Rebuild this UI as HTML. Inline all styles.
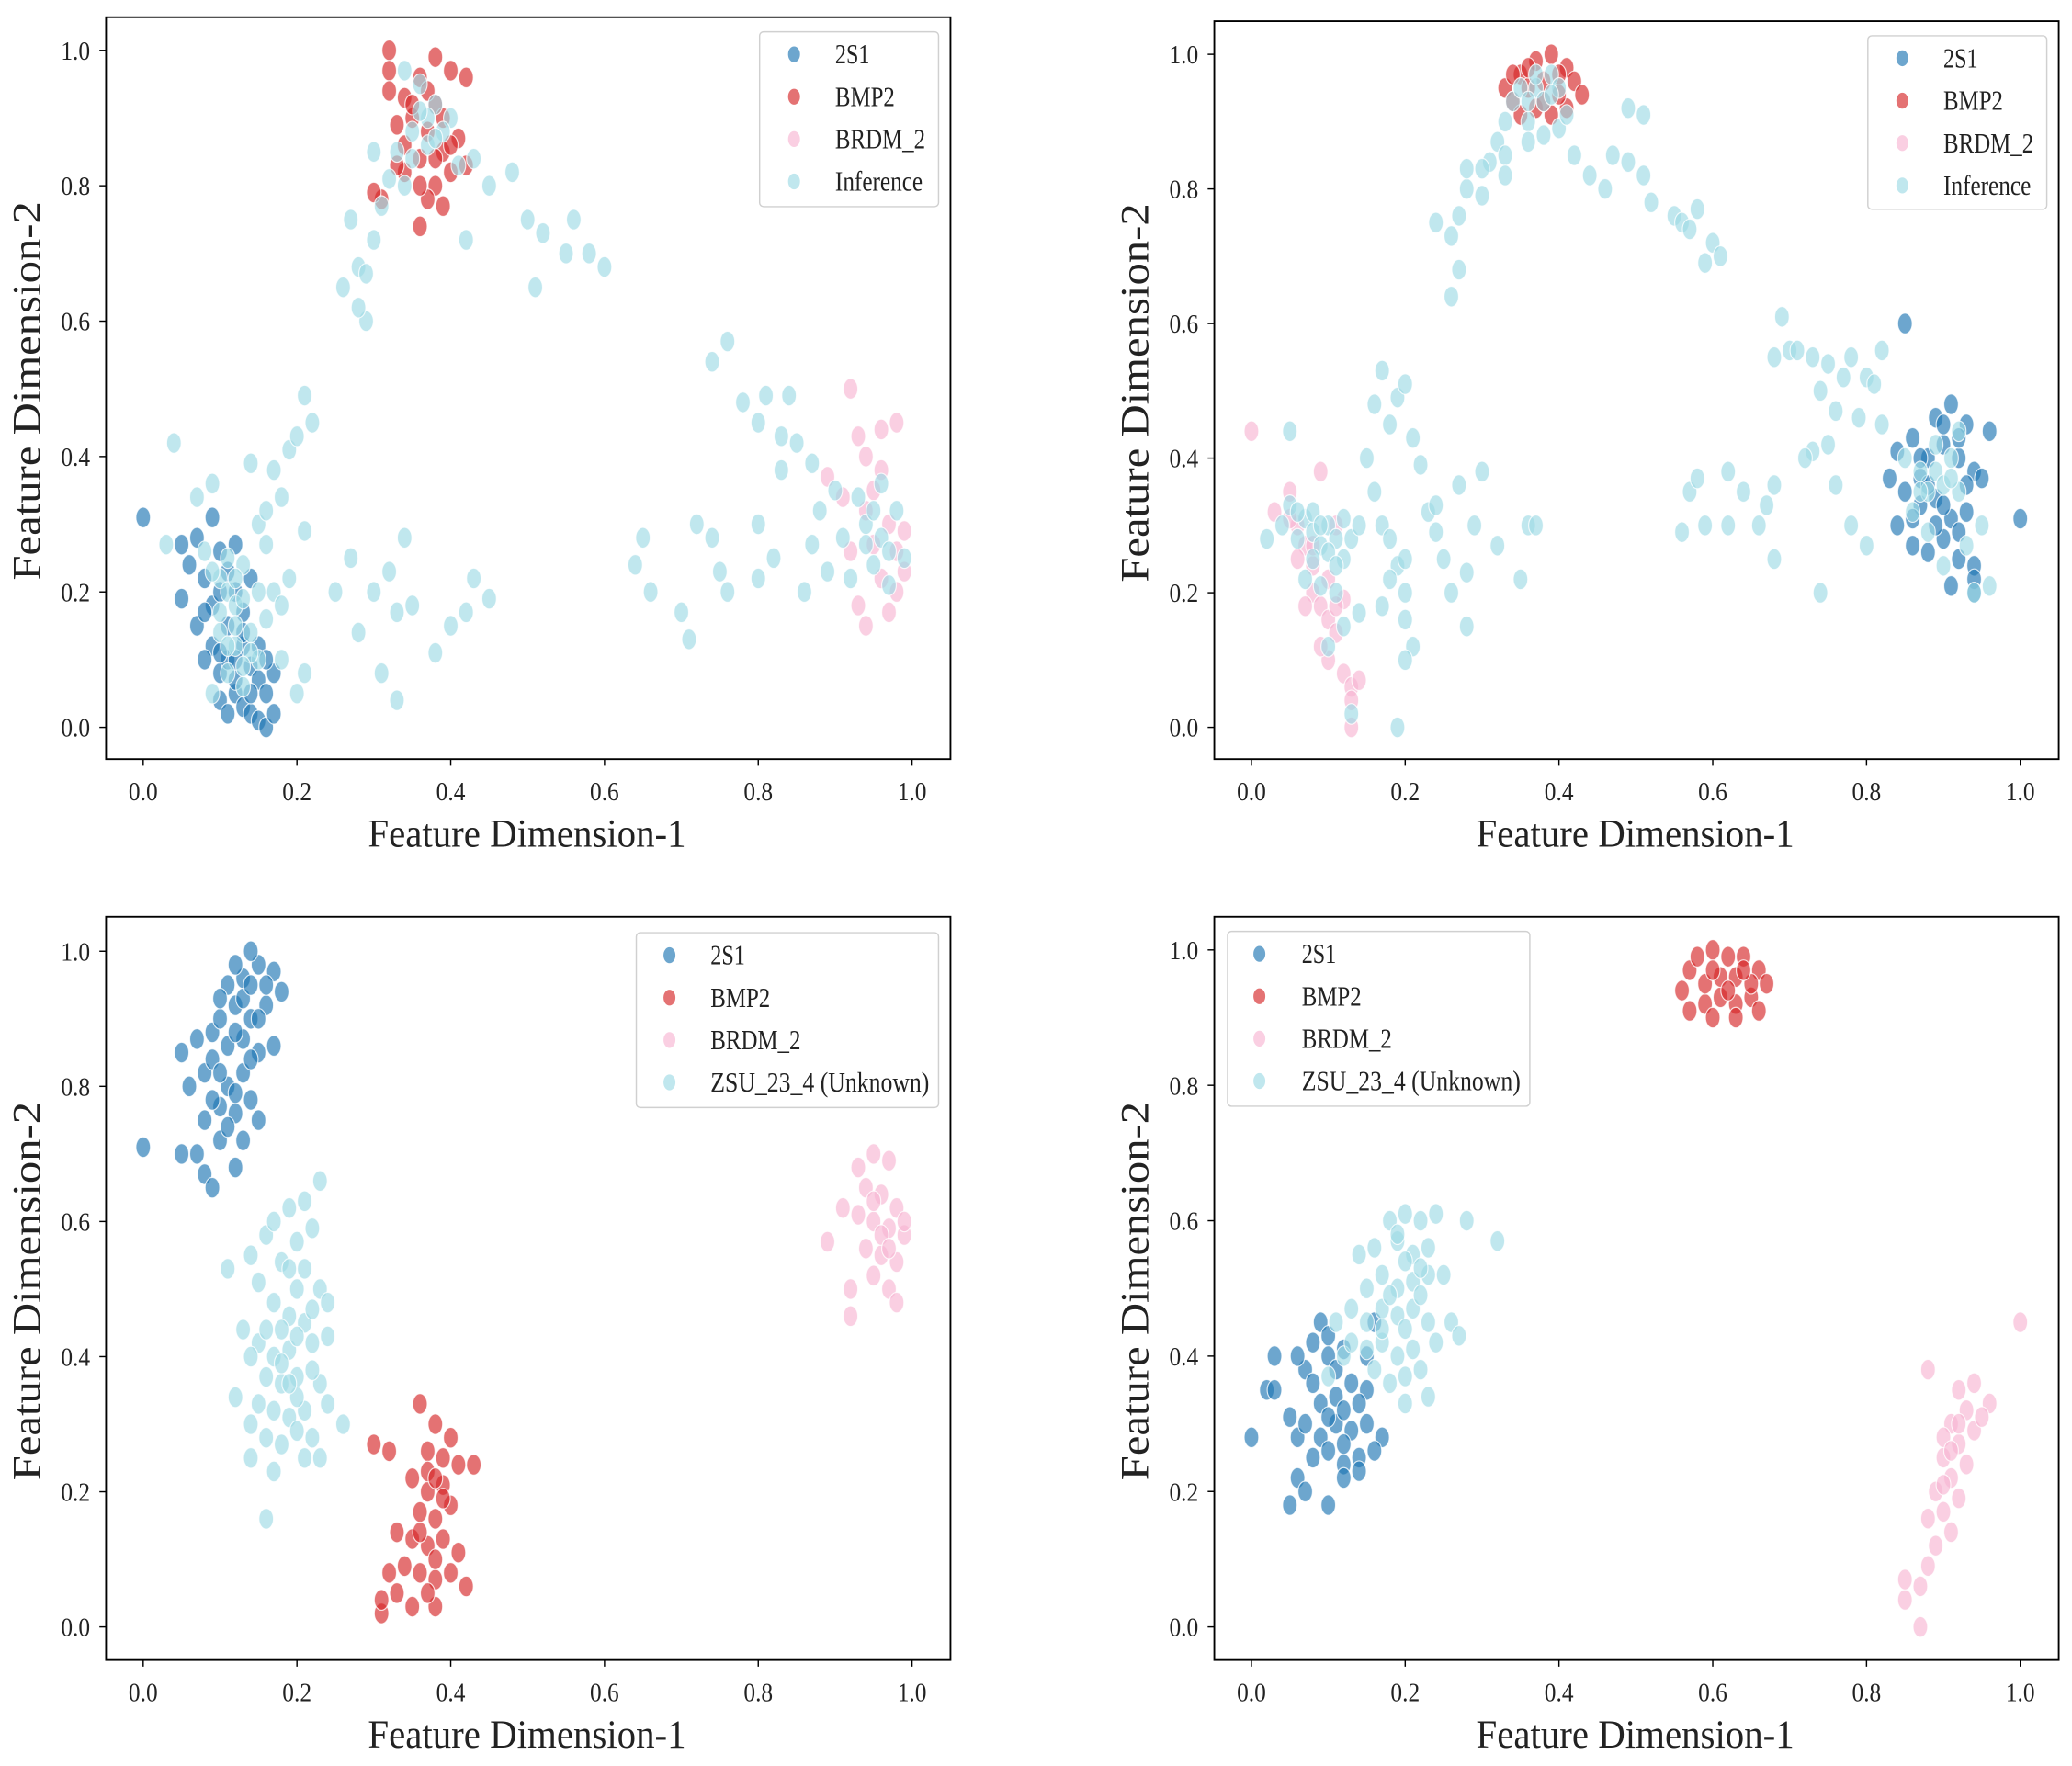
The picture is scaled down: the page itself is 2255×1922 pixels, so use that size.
<!DOCTYPE html>
<html><head><meta charset="utf-8">
<style>
html,body{margin:0;padding:0;background:#fff;}
svg{display:block;}
text{font-family:"Liberation Serif",serif;fill:#222;}
</style></head>
<body>
<svg id="fig" width="2255" height="1922" viewBox="0 0 1563 1333" preserveAspectRatio="none" xmlns="http://www.w3.org/2000/svg"></svg>
<script>
const ticks = [0.0, 0.2, 0.4, 0.6, 0.8, 1.0];
const tickLabels = ["0.0","0.2","0.4","0.6","0.8","1.0"];
const colors = {"2S1":"#1f77b4","BMP2":"#d62728","BRDM_2":"#f7b6d2","Inference":"#9edae5"};

const p1_2S1 = [[0.0,0.31],[0.05,0.27],[0.07,0.28],[0.06,0.24],[0.09,0.31],[0.08,0.22],[0.1,0.26],[0.12,0.27],[0.05,0.19],[0.07,0.15],[0.09,0.12],[0.08,0.1],[0.1,0.08],[0.12,0.05],[0.13,0.03],[0.14,0.02],[0.15,0.01],[0.16,0.0],[0.1,0.04],[0.11,0.15],[0.13,0.12],[0.14,0.09],[0.15,0.07],[0.17,0.08],[0.16,0.05],[0.12,0.2],[0.14,0.22],[0.11,0.1],[0.13,0.17],[0.09,0.18],[0.17,0.02],[0.12,0.07],[0.1,0.2],[0.11,0.23],[0.13,0.14],[0.15,0.12],[0.1,0.11],[0.14,0.05],[0.16,0.1],[0.08,0.17],[0.12,0.1],[0.11,0.02]];
const p1_BMP2 = [[0.32,1.0],[0.32,0.97],[0.34,0.93],[0.36,0.96],[0.38,0.99],[0.4,0.97],[0.42,0.96],[0.32,0.94],[0.35,0.9],[0.37,0.88],[0.39,0.85],[0.41,0.87],[0.36,0.84],[0.34,0.82],[0.38,0.8],[0.4,0.82],[0.37,0.78],[0.39,0.77],[0.31,0.78],[0.36,0.74],[0.33,0.83],[0.42,0.83],[0.3,0.79],[0.35,0.92],[0.38,0.92],[0.33,0.89],[0.37,0.94],[0.39,0.9],[0.36,0.8],[0.4,0.86],[0.34,0.86],[0.38,0.84]];
const p1_BRDM = [[0.92,0.5],[0.93,0.43],[0.96,0.44],[0.98,0.45],[0.89,0.37],[0.91,0.34],[0.94,0.32],[0.97,0.3],[0.99,0.29],[0.95,0.27],[0.96,0.22],[0.98,0.2],[0.99,0.23],[0.93,0.18],[0.94,0.15],[0.97,0.17],[0.95,0.35],[0.92,0.26],[0.96,0.38],[0.98,0.26],[0.94,0.4]];
const p1_Inf = [[0.04,0.42],[0.03,0.27],[0.07,0.34],[0.09,0.36],[0.08,0.26],[0.1,0.22],[0.11,0.2],[0.12,0.18],[0.13,0.24],[0.1,0.14],[0.12,0.12],[0.14,0.14],[0.15,0.1],[0.16,0.16],[0.13,0.06],[0.11,0.08],[0.18,0.1],[0.2,0.05],[0.21,0.08],[0.15,0.3],[0.16,0.32],[0.18,0.34],[0.17,0.38],[0.14,0.39],[0.19,0.41],[0.2,0.43],[0.21,0.49],[0.22,0.45],[0.19,0.22],[0.21,0.29],[0.17,0.2],[0.09,0.05],[0.16,0.27],[0.18,0.18],[0.11,0.25],[0.12,0.22],[0.13,0.19],[0.1,0.17],[0.12,0.15],[0.14,0.11],[0.11,0.12],[0.13,0.09],[0.09,0.23],[0.15,0.2],
[0.25,0.2],[0.27,0.25],[0.28,0.14],[0.3,0.2],[0.32,0.23],[0.33,0.17],[0.34,0.28],[0.31,0.08],[0.33,0.04],[0.38,0.11],[0.4,0.15],[0.42,0.17],[0.43,0.22],[0.45,0.19],[0.35,0.18],
[0.26,0.65],[0.28,0.68],[0.29,0.6],[0.3,0.72],[0.31,0.77],[0.33,0.85],[0.35,0.88],[0.37,0.86],[0.38,0.92],[0.36,0.95],[0.34,0.97],[0.4,0.9],[0.41,0.83],[0.43,0.84],[0.45,0.8],[0.48,0.82],[0.5,0.75],[0.52,0.73],[0.55,0.7],[0.56,0.75],[0.58,0.7],[0.6,0.68],[0.51,0.65],[0.42,0.72],[0.27,0.75],[0.3,0.85],[0.37,0.9],[0.39,0.88],[0.35,0.84],[0.36,0.91],[0.38,0.87],[0.34,0.8],[0.32,0.81],[0.28,0.62],[0.29,0.67],
[0.64,0.24],[0.65,0.28],[0.66,0.2],[0.7,0.17],[0.71,0.13],[0.72,0.3],[0.74,0.28],[0.75,0.23],[0.76,0.2],[0.74,0.54],[0.76,0.57],[0.78,0.48],[0.8,0.45],[0.81,0.49],[0.83,0.43],[0.84,0.49],[0.85,0.42],[0.87,0.39],[0.88,0.32],[0.9,0.35],[0.87,0.27],[0.89,0.23],[0.91,0.28],[0.93,0.34],[0.94,0.3],[0.96,0.28],[0.98,0.32],[0.95,0.24],[0.97,0.21],[0.99,0.25],[0.8,0.3],[0.82,0.25],[0.86,0.2],[0.92,0.22],[0.8,0.22],[0.83,0.38],[0.95,0.32],[0.97,0.26],[0.96,0.36],[0.94,0.27]];

const p2_2S1 = [[0.85,0.6],[0.91,0.48],[0.89,0.46],[0.93,0.45],[0.96,0.44],[0.84,0.41],[0.86,0.43],[0.88,0.4],[0.9,0.42],[0.92,0.4],[0.94,0.38],[0.95,0.37],[0.85,0.35],[0.87,0.33],[0.89,0.34],[0.91,0.31],[0.93,0.32],[0.84,0.3],[0.86,0.27],[0.88,0.26],[0.9,0.28],[0.92,0.25],[0.94,0.24],[0.94,0.22],[0.94,0.2],[0.91,0.21],[1.0,0.31],[0.83,0.37],[0.87,0.37],[0.89,0.3],[0.9,0.45],[0.92,0.43],[0.88,0.36],[0.9,0.33],[0.86,0.31],[0.92,0.29],[0.87,0.4],[0.93,0.36]];
const p2_BMP2 = [[0.33,0.95],[0.34,0.93],[0.35,0.97],[0.37,0.99],[0.39,1.0],[0.41,0.98],[0.42,0.96],[0.43,0.94],[0.41,0.92],[0.39,0.91],[0.37,0.92],[0.35,0.91],[0.36,0.95],[0.38,0.96],[0.4,0.94],[0.34,0.97],[0.36,0.98],[0.4,0.97],[0.38,0.93]];
const p2_BRDM = [[0.0,0.44],[0.03,0.32],[0.05,0.35],[0.06,0.3],[0.07,0.27],[0.08,0.24],[0.08,0.2],[0.09,0.18],[0.1,0.16],[0.11,0.14],[0.1,0.1],[0.12,0.08],[0.13,0.06],[0.14,0.07],[0.13,0.04],[0.1,0.22],[0.12,0.19],[0.07,0.18],[0.09,0.12],[0.11,0.3],[0.09,0.38],[0.13,0.0],[0.06,0.25],[0.05,0.31],[0.08,0.27],[0.11,0.18]];
const p2_Inf = [[0.05,0.44],[0.02,0.28],[0.04,0.3],[0.05,0.33],[0.06,0.28],[0.07,0.31],[0.08,0.29],[0.09,0.27],[0.1,0.3],[0.11,0.28],[0.12,0.31],[0.07,0.22],[0.09,0.21],[0.1,0.26],[0.11,0.2],[0.12,0.25],[0.13,0.28],[0.14,0.3],[0.12,0.15],[0.1,0.12],[0.13,0.02],[0.14,0.17],[0.16,0.35],[0.17,0.3],[0.18,0.28],[0.19,0.24],[0.2,0.25],[0.2,0.2],[0.18,0.22],[0.17,0.18],[0.15,0.4],[0.16,0.48],[0.17,0.53],[0.18,0.45],[0.19,0.49],[0.2,0.51],[0.21,0.43],[0.22,0.39],[0.2,0.16],[0.21,0.12],[0.2,0.1],[0.19,0.0],[0.23,0.32],[0.24,0.33],[0.24,0.29],[0.25,0.25],[0.26,0.2],[0.27,0.36],[0.28,0.23],[0.29,0.3],[0.3,0.38],[0.28,0.15],[0.32,0.27],[0.35,0.22],[0.36,0.3],[0.37,0.3],[0.06,0.32],[0.08,0.32],[0.09,0.3],[0.08,0.25],[0.11,0.24],
[0.34,0.93],[0.36,0.9],[0.37,0.95],[0.38,0.93],[0.39,0.97],[0.4,0.95],[0.38,0.88],[0.36,0.87],[0.4,0.89],[0.41,0.91],[0.35,0.95],[0.33,0.9],[0.32,0.87],[0.31,0.84],[0.3,0.83],[0.33,0.85],[0.28,0.8],[0.27,0.76],[0.26,0.73],[0.24,0.75],[0.27,0.68],[0.26,0.64],[0.28,0.83],[0.3,0.79],[0.33,0.82],[0.42,0.85],[0.44,0.82],[0.46,0.8],[0.47,0.85],[0.49,0.92],[0.51,0.91],[0.49,0.84],[0.51,0.82],[0.52,0.78],[0.55,0.76],[0.56,0.75],[0.57,0.74],[0.59,0.69],[0.58,0.77],[0.6,0.72],[0.61,0.7],[0.37,0.97],[0.39,0.94],[0.36,0.93],
[0.56,0.29],[0.57,0.35],[0.58,0.37],[0.59,0.3],[0.62,0.38],[0.62,0.3],[0.64,0.35],[0.66,0.3],[0.67,0.33],[0.68,0.36],[0.68,0.25],[0.68,0.55],[0.69,0.61],[0.7,0.56],[0.71,0.56],[0.73,0.55],[0.75,0.54],[0.74,0.5],[0.76,0.47],[0.77,0.52],[0.78,0.55],[0.8,0.52],[0.81,0.51],[0.82,0.56],[0.82,0.45],[0.79,0.46],[0.75,0.42],[0.73,0.41],[0.72,0.4],[0.76,0.36],[0.78,0.3],[0.8,0.27],[0.74,0.2],[0.85,0.4],[0.87,0.38],[0.88,0.35],[0.89,0.38],[0.9,0.36],[0.91,0.4],[0.92,0.35],[0.88,0.29],[0.9,0.24],[0.93,0.27],[0.94,0.2],[0.96,0.21],[0.86,0.32],[0.92,0.44],[0.95,0.3],[0.89,0.42],[0.91,0.37],[0.87,0.35]];

const p3_2S1 = [[0.0,0.71],[0.05,0.7],[0.07,0.7],[0.08,0.67],[0.09,0.65],[0.1,0.72],[0.12,0.68],[0.08,0.75],[0.1,0.77],[0.12,0.76],[0.14,0.78],[0.15,0.75],[0.06,0.8],[0.08,0.82],[0.09,0.84],[0.11,0.8],[0.13,0.82],[0.05,0.85],[0.07,0.87],[0.09,0.88],[0.11,0.86],[0.13,0.87],[0.15,0.85],[0.17,0.86],[0.1,0.9],[0.12,0.92],[0.14,0.9],[0.16,0.92],[0.11,0.95],[0.13,0.96],[0.15,0.98],[0.17,0.97],[0.14,1.0],[0.12,0.98],[0.16,0.95],[0.1,0.93],[0.18,0.94],[0.09,0.78],[0.11,0.74],[0.13,0.72],[0.12,0.88],[0.14,0.84],[0.1,0.82],[0.13,0.93],[0.15,0.9],[0.12,0.79],[0.14,0.95]];
const p3_BMP2 = [[0.3,0.27],[0.32,0.26],[0.36,0.33],[0.38,0.3],[0.4,0.28],[0.37,0.26],[0.39,0.25],[0.41,0.24],[0.43,0.24],[0.35,0.22],[0.37,0.2],[0.39,0.21],[0.36,0.17],[0.38,0.16],[0.4,0.18],[0.35,0.13],[0.37,0.12],[0.39,0.13],[0.34,0.09],[0.36,0.08],[0.38,0.07],[0.33,0.05],[0.35,0.03],[0.38,0.03],[0.31,0.02],[0.31,0.04],[0.32,0.08],[0.42,0.06],[0.41,0.11],[0.37,0.23],[0.39,0.19],[0.33,0.14],[0.4,0.08],[0.38,0.22],[0.36,0.14],[0.38,0.1],[0.37,0.05]];
const p3_BRDM = [[0.89,0.57],[0.93,0.68],[0.95,0.7],[0.97,0.69],[0.94,0.65],[0.96,0.64],[0.98,0.62],[0.93,0.61],[0.95,0.6],[0.97,0.59],[0.99,0.58],[0.94,0.56],[0.96,0.55],[0.98,0.54],[0.95,0.52],[0.97,0.5],[0.92,0.5],[0.92,0.46],[0.98,0.48],[0.91,0.62],[0.99,0.6],[0.96,0.58],[0.95,0.63],[0.97,0.56]];
const p3_ZSU = [[0.11,0.53],[0.14,0.55],[0.15,0.51],[0.16,0.58],[0.17,0.6],[0.19,0.62],[0.21,0.63],[0.23,0.66],[0.22,0.59],[0.2,0.57],[0.18,0.54],[0.21,0.53],[0.23,0.5],[0.24,0.48],[0.17,0.48],[0.19,0.46],[0.21,0.45],[0.13,0.44],[0.15,0.42],[0.17,0.4],[0.19,0.41],[0.22,0.42],[0.24,0.43],[0.14,0.4],[0.16,0.37],[0.18,0.36],[0.2,0.37],[0.23,0.36],[0.12,0.34],[0.15,0.33],[0.17,0.32],[0.19,0.31],[0.21,0.32],[0.24,0.33],[0.26,0.3],[0.14,0.3],[0.16,0.28],[0.18,0.27],[0.2,0.29],[0.22,0.28],[0.14,0.25],[0.17,0.23],[0.21,0.25],[0.23,0.25],[0.16,0.16],[0.2,0.5],[0.18,0.44],[0.22,0.38],[0.19,0.53],[0.2,0.43],[0.18,0.39],[0.2,0.34],[0.22,0.47],[0.16,0.44],[0.19,0.36]];

const p4_2S1 = [[0.0,0.28],[0.02,0.35],[0.03,0.35],[0.03,0.4],[0.05,0.31],[0.06,0.28],[0.07,0.38],[0.08,0.42],[0.09,0.45],[0.1,0.43],[0.12,0.41],[0.1,0.4],[0.08,0.36],[0.09,0.33],[0.11,0.34],[0.13,0.36],[0.15,0.35],[0.07,0.3],[0.09,0.28],[0.11,0.3],[0.13,0.29],[0.15,0.3],[0.17,0.28],[0.08,0.25],[0.1,0.26],[0.12,0.24],[0.14,0.25],[0.16,0.26],[0.06,0.22],[0.07,0.2],[0.05,0.18],[0.1,0.18],[0.12,0.22],[0.14,0.23],[0.15,0.4],[0.11,0.38],[0.06,0.4],[0.16,0.45],[0.12,0.32],[0.14,0.33],[0.1,0.31],[0.12,0.27]];
const p4_BMP2 = [[0.56,0.94],[0.57,0.97],[0.58,0.99],[0.6,1.0],[0.62,0.99],[0.64,0.99],[0.66,0.97],[0.67,0.95],[0.65,0.93],[0.63,0.92],[0.61,0.93],[0.59,0.92],[0.57,0.91],[0.6,0.9],[0.63,0.9],[0.66,0.91],[0.61,0.96],[0.63,0.96],[0.59,0.95],[0.65,0.95],[0.62,0.94],[0.64,0.97],[0.6,0.97]];
const p4_BRDM = [[1.0,0.45],[0.88,0.38],[0.92,0.35],[0.94,0.36],[0.96,0.33],[0.93,0.32],[0.91,0.3],[0.94,0.29],[0.92,0.27],[0.9,0.25],[0.93,0.24],[0.91,0.22],[0.89,0.2],[0.92,0.19],[0.9,0.17],[0.88,0.16],[0.91,0.14],[0.89,0.12],[0.88,0.09],[0.87,0.06],[0.85,0.04],[0.85,0.07],[0.87,0.0],[0.95,0.31],[0.9,0.28],[0.92,0.3],[0.91,0.26],[0.9,0.21]];
const p4_ZSU = [[0.1,0.37],[0.12,0.4],[0.11,0.45],[0.13,0.47],[0.15,0.5],[0.14,0.55],[0.16,0.56],[0.18,0.6],[0.2,0.61],[0.22,0.6],[0.24,0.61],[0.28,0.6],[0.32,0.57],[0.19,0.57],[0.21,0.55],[0.23,0.56],[0.17,0.52],[0.19,0.5],[0.21,0.51],[0.23,0.52],[0.25,0.52],[0.15,0.45],[0.17,0.47],[0.19,0.46],[0.21,0.47],[0.23,0.45],[0.26,0.45],[0.15,0.41],[0.17,0.42],[0.19,0.4],[0.21,0.41],[0.24,0.42],[0.16,0.38],[0.18,0.36],[0.2,0.37],[0.22,0.38],[0.27,0.43],[0.23,0.34],[0.2,0.33],[0.13,0.42],[0.2,0.54],[0.22,0.49],[0.18,0.49],[0.2,0.44],[0.17,0.44],[0.22,0.53],[0.19,0.58]];

const NS = "http://www.w3.org/2000/svg";
const svg = document.getElementById('fig');
function mk(tag, attrs, parent){ const e=document.createElementNS(NS,tag); for(const k in attrs) e.setAttribute(k,attrs[k]); (parent||svg).appendChild(e); return e; }

const panels = [
 {id:"top-left", box:[80,13,717,573], x0:108,x1:688, y0:549,y1:38, legend:[573,24,135,132], lm:599, lt:630, labels:["2S1","BMP2","BRDM_2","Inference"], series:[p1_2S1,p1_BMP2,p1_BRDM,p1_Inf]},
 {id:"top-right", box:[916,16,1553,573], x0:944,x1:1524, y0:549,y1:41, legend:[1409,27,135,131], lm:1435, lt:1466, labels:["2S1","BMP2","BRDM_2","Inference"], series:[p2_2S1,p2_BMP2,p2_BRDM,p2_Inf]},
 {id:"bottom-left", box:[80,692,717,1253], x0:108,x1:688, y0:1228,y1:718, legend:[480,704,228,132], lm:505, lt:536, labels:["2S1","BMP2","BRDM_2","ZSU_23_4 (Unknown)"], series:[p3_2S1,p3_BMP2,p3_BRDM,p3_ZSU]},
 {id:"bottom-right", box:[916,692,1553,1253], x0:944,x1:1524, y0:1228,y1:717, legend:[926,703,228,132], lm:950, lt:982, labels:["2S1","BMP2","BRDM_2","ZSU_23_4 (Unknown)"], series:[p4_2S1,p4_BMP2,p4_BRDM,p4_ZSU]}
];
const labelWidths = {"2S1":26,"BMP2":45,"BRDM_2":68,"Inference":66,"ZSU_23_4 (Unknown)":165};
const cols = [colors["2S1"],colors["BMP2"],colors["BRDM_2"],colors["Inference"]];
const names = ["2s1","bmp2","brdm-2","inference"];

panels.forEach(p=>{
  const g = mk('g',{});
  
  
  const sx = v => p.x0 + v*(p.x1-p.x0);
  const sy = v => p.y0 + v*(p.y1-p.y0);
  const [bx0,by0,bx1,by1] = p.box;
  p.series.forEach((s,si)=>{
    const sg = mk('g',{},g);
    
    
    s.forEach(d=>{
      const e = mk('ellipse',{cx:sx(d[0]),cy:sy(d[1]),rx:5.5,ry:7.8,fill:cols[si],'fill-opacity':0.65,stroke:'#fff','stroke-width':0.8,'stroke-opacity':0.8},sg);
      
      
    });
  });
  const fr = mk('rect',{x:bx0,y:by0,width:bx1-bx0,height:by1-by0,fill:'none',stroke:'#000','stroke-width':1.3},g);
  
  
  ticks.forEach((t,i)=>{
    const x = sx(t), y = sy(t);
    mk('line',{x1:x,x2:x,y1:by1,y2:by1+5,stroke:'#000','stroke-width':1},g);
    const xt = mk('text',{x:x,y:by1+31,'text-anchor':'middle','font-size':20,textLength:22,lengthAdjust:'spacingAndGlyphs'},g);
    xt.textContent = tickLabels[i];
    
    
    mk('line',{x1:bx0-5,x2:bx0,y1:y,y2:y,stroke:'#000','stroke-width':1},g);
    const yt = mk('text',{x:bx0-12,y:y+7,'text-anchor':'end','font-size':20,textLength:22,lengthAdjust:'spacingAndGlyphs'},g);
    yt.textContent = tickLabels[i];
    
    
  });
  const cx = (bx0+bx1)/2 - 1;
  const xl = mk('text',{x:cx,y:by1+66,'text-anchor':'middle','font-size':30,textLength:240,lengthAdjust:'spacingAndGlyphs'},g);
  xl.textContent = "Feature Dimension-1";
  
  
  const cy = (by0+by1)/2 + 2;
  const yl = mk('text',{x:0,y:0,'text-anchor':'middle','font-size':30,textLength:286,lengthAdjust:'spacingAndGlyphs',transform:`translate(${bx0-50},${cy}) rotate(-90)`},g);
  yl.textContent = "Feature Dimension-2";
  
  
  const [lx,ly,lw,lh] = p.legend;
  const lg = mk('g',{},g);
  
  
  mk('rect',{x:lx,y:ly,width:lw,height:lh,rx:3,fill:'#fff','fill-opacity':0.85,stroke:'#d0d0d0','stroke-width':1},lg);
  p.labels.forEach((lab,i)=>{
    const yy = ly + 17 + i*32;
    const m = mk('ellipse',{cx:p.lm,cy:yy,rx:4.5,ry:6,fill:cols[i],'fill-opacity':0.65},lg);
    
    
    const t = mk('text',{x:p.lt,y:yy+7,'font-size':21,textLength:labelWidths[lab],lengthAdjust:'spacingAndGlyphs'},lg);
    t.textContent = lab;
    
    
  });
});
</script>
</body></html>
